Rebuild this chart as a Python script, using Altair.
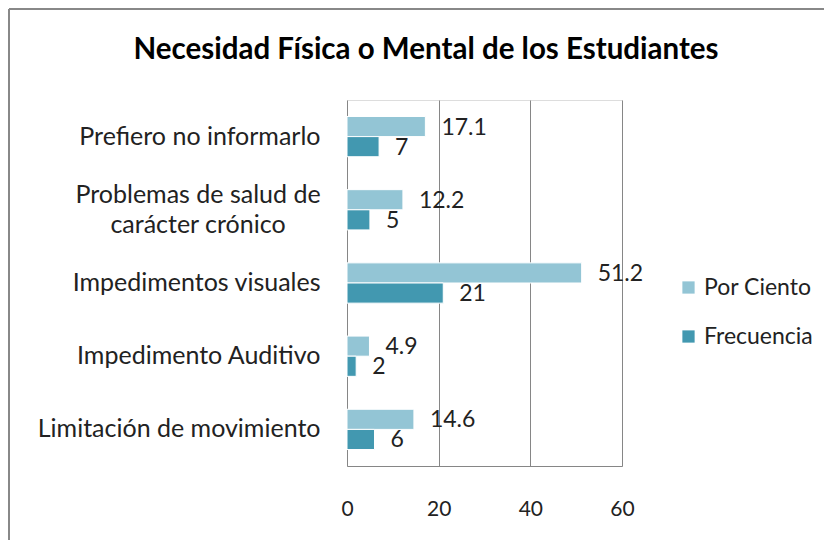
import altair as alt
import pandas as pd

categories = ["Prefiero no informarlo", "Problemas de salud de|carácter crónico",
              "Impedimentos visuales", "Impedimento Auditivo", "Limitación de movimiento"]
por_ciento = [17.1, 12.2, 51.2, 4.9, 14.6]
frecuencia = [7, 5, 21, 2, 6]
series = ["Por Ciento", "Frecuencia"]
colors = ["#93C5D5", "#4298B0"]
x_ticks = [0, 20, 40, 60]
title_text = "Necesidad Física o Mental de los Estudiantes"

rows = []
for c, p, f in zip(categories, por_ciento, frecuencia):
    rows.append({"cat": c, "series": "Por Ciento", "value": p, "label": f"{p:g}"})
    rows.append({"cat": c, "series": "Frecuencia", "value": f, "label": f"{f:g}"})
df = pd.DataFrame(rows)
multi = pd.DataFrame({"cat": [c for c in categories if "|" in c]})

FONT = "Lato"
GRID = "#868686"
LBL = 25

y_enc = alt.Y("cat:N", sort=categories,
              scale=alt.Scale(paddingInner=0.45, paddingOuter=0.225),
              axis=alt.Axis(title=None,
                            labelExpr="indexof(datum.label, '|') >= 0 ? '' : datum.label",
                            labelFontSize=LBL, labelFont=FONT, labelColor="#222",
                            labelPadding=27, ticks=False,
                            domain=False, grid=False, labelLimit=400))
x_enc = alt.X("value:Q", scale=alt.Scale(domain=[0, 60], nice=False),
              axis=alt.Axis(values=x_ticks, title=None, grid=True, gridColor=GRID,
                            gridOpacity=1, domainColor=GRID, ticks=False,
                            labelFontSize=21, labelFont=FONT, labelColor="#222",
                            labelPadding=32, labelFlush=False))
yoff = alt.YOffset("series:N", sort=series, scale=alt.Scale(paddingInner=0, domain=series))

base = alt.Chart(df)
bars = base.mark_bar(stroke="white", strokeWidth=1).encode(
    x=x_enc, y=y_enc, yOffset=yoff,
    color=alt.Color("series:N", sort=series,
                    scale=alt.Scale(domain=series, range=colors),
                    legend=alt.Legend(title=None, orient="none", legendX=330, legendY=176,
                                      symbolType="square", symbolSize=150,
                                      symbolStrokeWidth=0, labelFontSize=23,
                                      labelFont=FONT, labelColor="#222",
                                      rowPadding=25, labelOffset=4)),
)
labels = base.mark_text(align="left", baseline="middle", dx=16, dy=1,
                        fontSize=23, font=FONT, color="#222").encode(
    x="value:Q", y=alt.Y("cat:N", sort=categories), yOffset=yoff, text="label:N")

multi_label = alt.Chart(multi).mark_text(
    align="center", baseline="middle", lineBreak="|", lineHeight=30, dy=-15,
    fontSize=LBL, font=FONT, color="#222").encode(
    x=alt.value(-149), y=alt.Y("cat:N", sort=categories), text="cat:N")

one = pd.DataFrame({"t": [title_text]})
title = alt.Chart(one).mark_text(font=FONT, fontSize=29.5, fontWeight="bold", color="#000",
                                 align="center", baseline="middle").encode(
    x=alt.value(79), y=alt.value(-50), text="t:N")
left_border = alt.Chart(one).mark_rule(color="#888", strokeWidth=2).encode(
    x=alt.value(-338), y=alt.value(-91), y2=alt.value(440))
top_border = alt.Chart(one).mark_rule(color="#888", strokeWidth=2).encode(
    x=alt.value(-338), x2=alt.value(477), y=alt.value(-91))

chart = alt.layer(bars, labels, multi_label, title, left_border, top_border).properties(
    width=275, height=366,
    padding={"left": 339, "top": 92, "right": 202, "bottom": 74},
    autosize=alt.AutoSizeParams(type="none"),
).configure_view(stroke=None).configure(background="white")

chart.save("out.html", embed_options={"renderer": "svg", "actions": False})
